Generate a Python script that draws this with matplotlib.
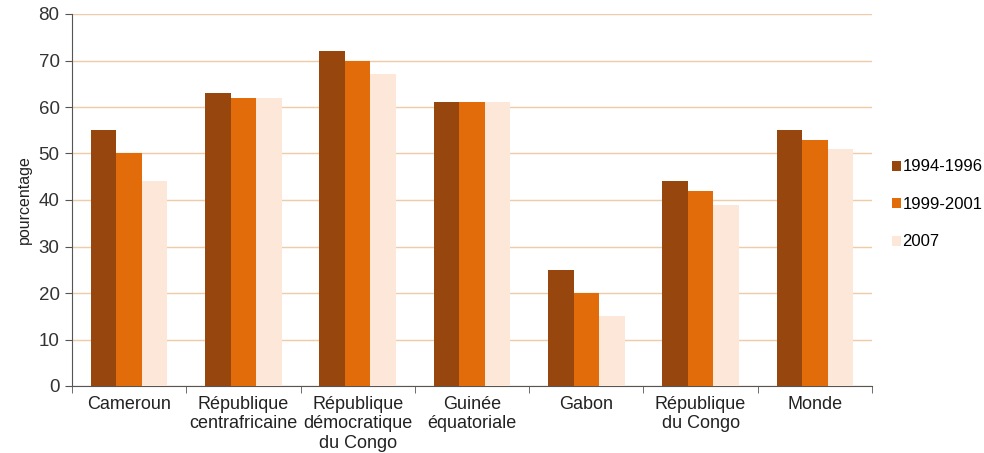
import matplotlib
matplotlib.use("Agg")
import matplotlib.pyplot as plt
import numpy as np

categories = ["Cameroun", "République\ncentrafricaine", "République\ndémocratique\ndu Congo",
              "Guinée\néquatoriale", "Gabon", "République\ndu Congo", "Monde"]
series_names = ["1994-1996", "1999-2001", "2007"]
v1994 = [55, 63, 72, 61, 25, 44, 55]
v1999 = [50, 62, 70, 61, 20, 42, 53]
v2007 = [44, 62, 67, 61, 15, 39, 51]
yticks = [0, 10, 20, 30, 40, 50, 60, 70, 80]

colors = ["#97470D", "#E36C0A", "#FCE7D8"]

plt.rcParams['font.family'] = ['Liberation Sans', 'DejaVu Sans']
fig = plt.figure(figsize=(9.84, 4.53), dpi=100)
ax = fig.add_axes([72/984, (453-386)/453, 800/984, 372/453])

x = np.arange(len(categories))
w = 0.223
for i, (vals, c, name) in enumerate(zip([v1994, v1999, v2007], colors, series_names)):
    ax.bar(x + (i - 1) * w, vals, width=w, color=c, label=name, zorder=3)

ax.set_xlim(-0.5, len(categories) - 0.5)
ax.set_ylim(0, 80)
ax.set_yticks(yticks)
ax.set_yticklabels([str(t) for t in yticks], fontsize=13.5, color="#333333")
ax.yaxis.grid(True, color="#EFCBA8", linewidth=1, zorder=0)
ax.set_axisbelow(True)

ax.set_xticks(x)
ax.set_xticklabels(categories, fontsize=13, color="#222222", linespacing=1.2)
ax.tick_params(axis='x', length=0, pad=7)
ax.set_xticks(np.arange(-0.5, len(categories) + 0.5, 1), minor=True)
ax.tick_params(axis='x', which='minor', length=5, direction='out', color="#555555")
ax.tick_params(axis='y', length=5, direction='out', color="#555555", pad=4)

for s in ["top", "right"]:
    ax.spines[s].set_visible(False)
ax.spines["left"].set_color("#555555")
ax.spines["bottom"].set_color("#555555")

ax.set_ylabel("pourcentage", fontsize=11.5, color="#222222", labelpad=5)

leg = ax.legend(loc="center left", bbox_to_anchor=(1.01, 0.488), frameon=False,
                fontsize=12, handlelength=0.55, handleheight=0.55, handletextpad=0.1,
                labelspacing=1.35, borderaxespad=0.3)

fig.savefig("out.png", dpi=100)
